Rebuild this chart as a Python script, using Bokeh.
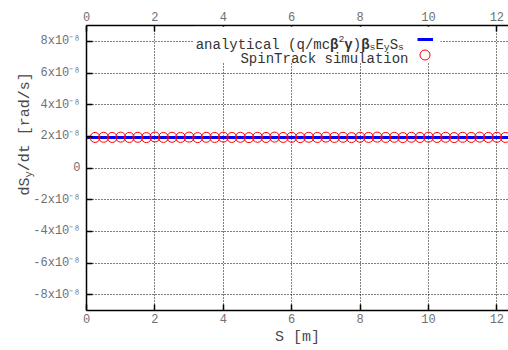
import math
from bokeh.plotting import figure
from bokeh.layouts import row
from bokeh.models import (Range1d, LinearAxis, FixedTicker, CustomJSTickFormatter,
                          Label, Legend, LegendItem, BoxAnnotation)
from bokeh.core.properties import value
from bokeh.embed import file_html
from bokeh.resources import INLINE

# ---------------- data ----------------
s_sim = [0.25, 0.5, 0.75, 1.0, 1.25, 1.5, 1.75, 2.0, 2.25, 2.5,
         2.75, 3.0, 3.25, 3.5, 3.75, 4.0, 4.25, 4.5, 4.75, 5.0,
         5.25, 5.5, 5.75, 6.0, 6.25, 6.5, 6.75, 7.0, 7.25, 7.5,
         7.75, 8.0, 8.25, 8.5, 8.75, 9.0, 9.25, 9.5, 9.75, 10.0,
         10.25, 10.5, 10.75, 11.0, 11.25, 11.5, 11.75, 12.0, 12.25]
dsy_sim = [1.93e-8, 1.94e-8, 1.93e-8, 1.95e-8, 1.93e-8, 1.94e-8, 1.92e-8, 1.96e-8, 1.93e-8, 1.94e-8,
           1.93e-8, 1.95e-8, 1.92e-8, 1.94e-8, 1.93e-8, 1.95e-8, 1.93e-8, 1.94e-8, 1.92e-8, 1.94e-8,
           1.93e-8, 1.95e-8, 1.93e-8, 1.94e-8, 1.92e-8, 1.94e-8, 1.93e-8, 1.95e-8, 1.93e-8, 1.94e-8,
           1.92e-8, 1.94e-8, 1.93e-8, 1.95e-8, 1.93e-8, 1.94e-8, 1.92e-8, 1.94e-8, 1.93e-8, 1.95e-8,
           1.93e-8, 1.94e-8, 1.92e-8, 1.94e-8, 1.93e-8, 1.95e-8, 1.93e-8, 1.94e-8, 1.93e-8]
s_ana = [0.0, 12.5]
dsy_ana = [1.92e-8, 1.92e-8]

x_ticks = [0, 2, 4, 6, 8, 10, 12]
y_ticks = [-8e-8, -6e-8, -4e-8, -2e-8, 0.0, 2e-8, 4e-8, 6e-8, 8e-8]
y_tick_labels = ["-8x10\u207b\u2078", "-6x10\u207b\u2078", "-4x10\u207b\u2078", "-2x10\u207b\u2078", "0",
                 "2x10\u207b\u2078", "4x10\u207b\u2078", "6x10\u207b\u2078", "8x10\u207b\u2078"]

legend_ana = [("analytical (q/mc", "n"), ("\u03b2", "g"), ("2", "sup"), ("\u03b3", "g"), (")", "n"),
              ("\u03b2", "g"), ("s", "sub"), ("E", "n"), ("y", "sub"), ("S", "n"), ("s", "sub")]
legend_sim = "SpinTrack simulation"
x_label = "S [m]"
y_label = [("dS", "n"), ("y", "sub"), ("/dt  [rad/s]", "n")]

FONT = "Liberation Mono"
TICK_COLOR = "#707070"
LABEL_COLOR = "#4a4a4a"
LEGEND_COLOR = "#333333"

W, H = 508, 350
LABEL_W = 40
FRAME_L, FRAME_T, FRAME_B = 86, 25, 310

# ---------------- main figure ----------------
p = figure(width=W, height=H, output_backend="svg", toolbar_location=None,
           x_range=Range1d(0, 12.34), y_range=Range1d(-9e-8, 9e-8),
           min_border_left=FRAME_L, min_border_right=0,
           min_border_top=FRAME_T, min_border_bottom=H - FRAME_B)
p.outline_line_color = None
p.background_fill_color = "white"
p.border_fill_alpha = 0.0

def style_axis(ax, standoff):
    ax.axis_line_color = "black"
    ax.axis_line_width = 1.5
    ax.major_tick_in = 6
    ax.major_tick_out = 0
    ax.major_tick_line_width = 1.5
    ax.major_tick_line_color = "black"
    ax.minor_tick_in = 0
    ax.minor_tick_out = 0
    ax.major_label_text_font = FONT
    ax.major_label_text_font_size = "12px"
    ax.major_label_text_color = TICK_COLOR
    ax.major_label_standoff = standoff

xt = FixedTicker(ticks=x_ticks)
yt = FixedTicker(ticks=y_ticks)

xa = p.xaxis[0]
xa.ticker = xt
style_axis(xa, 3)
xa.axis_label = x_label
xa.axis_label_text_font = FONT
xa.axis_label_text_font_size = "15px"
xa.axis_label_text_font_style = "normal"
xa.axis_label_text_color = LABEL_COLOR
xa.axis_label_standoff = 3

ya = p.yaxis[0]
ya.ticker = yt
ya.formatter = CustomJSTickFormatter(args=dict(tv=y_ticks, tl=y_tick_labels), code="""
let best = 0;
for (let i = 0; i < tv.length; i++) {
  if (Math.abs(tv[i] - tick) < Math.abs(tv[best] - tick)) best = i;
}
return tl[best];
""")
style_axis(ya, 6)

top = LinearAxis(ticker=FixedTicker(ticks=x_ticks))
style_axis(top, 5)
p.add_layout(top, "above")

for g in (p.xgrid[0], p.ygrid[0]):
    g.grid_line_color = "black"
    g.grid_line_dash = "1 2"
    g.grid_line_width = 1
p.xgrid[0].ticker = xt
p.ygrid[0].ticker = yt

# ---------------- data renderers ----------------
r_ana = p.line(s_ana, dsy_ana, line_color="#0000ff", line_width=3)
r_sim = p.scatter(s_sim, dsy_sim, marker="circle", size=10, fill_color=None,
                  line_color="#ff0000", line_width=1)

# ---------------- legend ----------------
# page pixel -> frame screen units (x from frame left, y up from frame bottom)
def sx(px):
    return px - FRAME_L
def sy(py):
    return FRAME_B - py

p.add_layout(BoxAnnotation(left=sx(193), right=sx(440), top=sy(FRAME_T + 1.2), bottom=sy(62),
                           left_units="screen", right_units="screen",
                           top_units="screen", bottom_units="screen",
                           fill_color="white", fill_alpha=1.0, line_color=None))

def rich_text(fig, pieces, x, y, size, color, rotated=False):
    small = size * 0.7
    pos = 0.0
    for txt, kind in pieces:
        fs = small if kind in ("sup", "sub") else size
        shift = 0.0
        if kind == "sup":
            shift = size * 0.38
        elif kind == "sub":
            shift = -size * 0.22
        if rotated:
            lx, ly, ang = x - shift, y + pos, math.pi / 2
        else:
            lx, ly, ang = x + pos, y + shift, 0.0
        fig.add_layout(Label(x=lx, y=ly, x_units="screen", y_units="screen", text=txt,
                             text_font=FONT, text_font_size=f"{fs:.1f}px",
                             text_font_style="bold" if kind == "g" else "normal",
                             text_color=color, text_align="left", text_baseline="alphabetic",
                             angle=ang))
        pos += len(txt) * fs * 0.6

leg_size = 14
n_norm = sum(len(t) for t, k in legend_ana if k not in ("sup", "sub"))
n_small = sum(len(t) for t, k in legend_ana if k in ("sup", "sub"))
width_ana = n_norm * leg_size * 0.6 + n_small * leg_size * 0.7 * 0.6
rich_text(p, legend_ana, sx(403.5) - width_ana, sy(44), leg_size, LEGEND_COLOR)
p.add_layout(Label(x=sx(408), y=sy(58.5), x_units="screen", y_units="screen", text=legend_sim,
                   text_font=FONT, text_font_size=f"{leg_size}px", text_color=LEGEND_COLOR,
                   text_align="right", text_baseline="alphabetic"))

def sample_legend(renderer, left, bottom, gw, gh):
    lg = Legend(items=[LegendItem(label=value(" "), renderers=[renderer])],
                location=(left, bottom), orientation="vertical",
                glyph_width=gw, glyph_height=gh, label_standoff=0, label_width=0,
                label_height=0, padding=0, margin=0, spacing=0,
                label_text_font_size="1px", border_line_color=None,
                background_fill_alpha=0)
    p.add_layout(lg, "center")

sample_legend(r_ana, sx(417), sy(44.3), 16, 10)
sample_legend(r_sim, sx(412), sy(66.8), 25, 25)

# ---------------- y axis label (narrow figure, underneath the main one) ----------------
lf = figure(width=LABEL_W, height=H, output_backend="svg", toolbar_location=None,
            x_range=Range1d(0, 1), y_range=Range1d(0, 1),
            x_axis_location=None, y_axis_location=None,
            min_border_left=0, min_border_right=0, min_border_top=0, min_border_bottom=0,
            margin=(0, -LABEL_W, 0, 0))
lf.outline_line_color = None
lf.grid.visible = False
lf.background_fill_color = "white"
lf.border_fill_color = "white"
rich_text(lf, y_label, 25, H - 235, 15, LABEL_COLOR, rotated=True)

layout = row(lf, p, spacing=0)
open("out.html", "w").write(file_html(layout, INLINE))
